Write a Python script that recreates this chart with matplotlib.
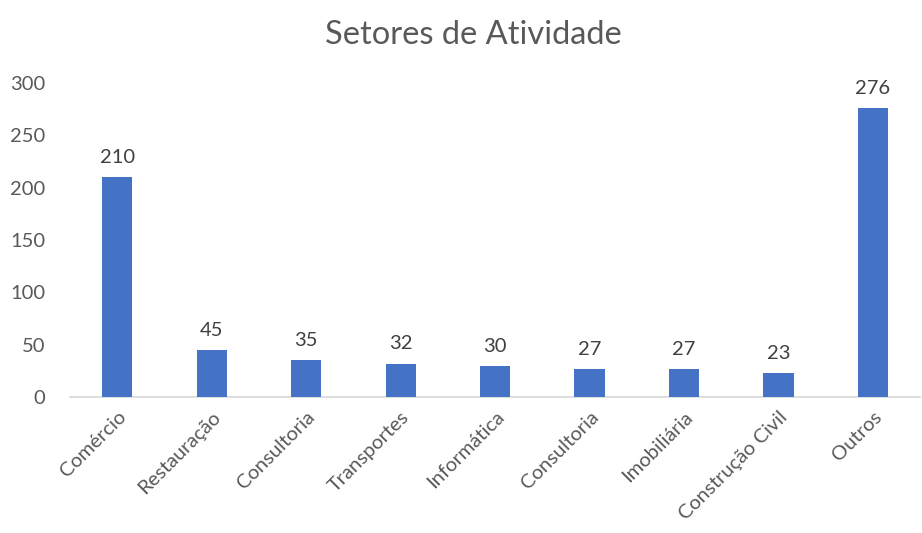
import matplotlib.pyplot as plt

setores = ["Comércio", "Restauração", "Consultoria", "Transportes", "Informática",
           "Consultoria", "Imobiliária", "Construção Civil", "Outros"]
valores = [210, 45, 35, 32, 30, 27, 27, 23, 276]
yticks = [0, 50, 100, 150, 200, 250, 300]

plt.rcParams['font.family'] = ['Lato', 'DejaVu Sans']

fig = plt.figure(figsize=(9.22, 5.33), dpi=100)
ax = fig.add_axes([0.076, 0.255, 0.922, 0.589])

x = range(len(setores))
bars = ax.bar(x, valores, width=0.32, color="#4472C4", zorder=3)

# rótulos com o valor de cada barra
for b, v in zip(bars, valores):
    ax.annotate(str(v), (b.get_x() + b.get_width() / 2, v),
                xytext=(0, 8), textcoords="offset points",
                ha="center", va="bottom", fontsize=14.5, color="#404040")

ax.set_xlim(-0.5, len(setores) - 0.5)
ax.set_ylim(0, 300)
ax.set_yticks(yticks)
ax.set_xticks(list(x))
ax.set_xticklabels(setores, rotation=45, ha="right", rotation_mode="anchor")
ax.tick_params(axis="both", length=0, labelsize=14.5, labelcolor="#595959")
ax.tick_params(axis="y", pad=18)
ax.tick_params(axis="x", pad=8)

for s in ["top", "right", "left"]:
    ax.spines[s].set_visible(False)
ax.spines["bottom"].set_color("#D9D9D9")
ax.spines["bottom"].set_linewidth(1.2)

fig.text(0.513, 0.935, "Setores de Atividade", ha="center", va="center",
         fontsize=23.5, color="#595959")

fig.savefig("out.png", dpi=100)
